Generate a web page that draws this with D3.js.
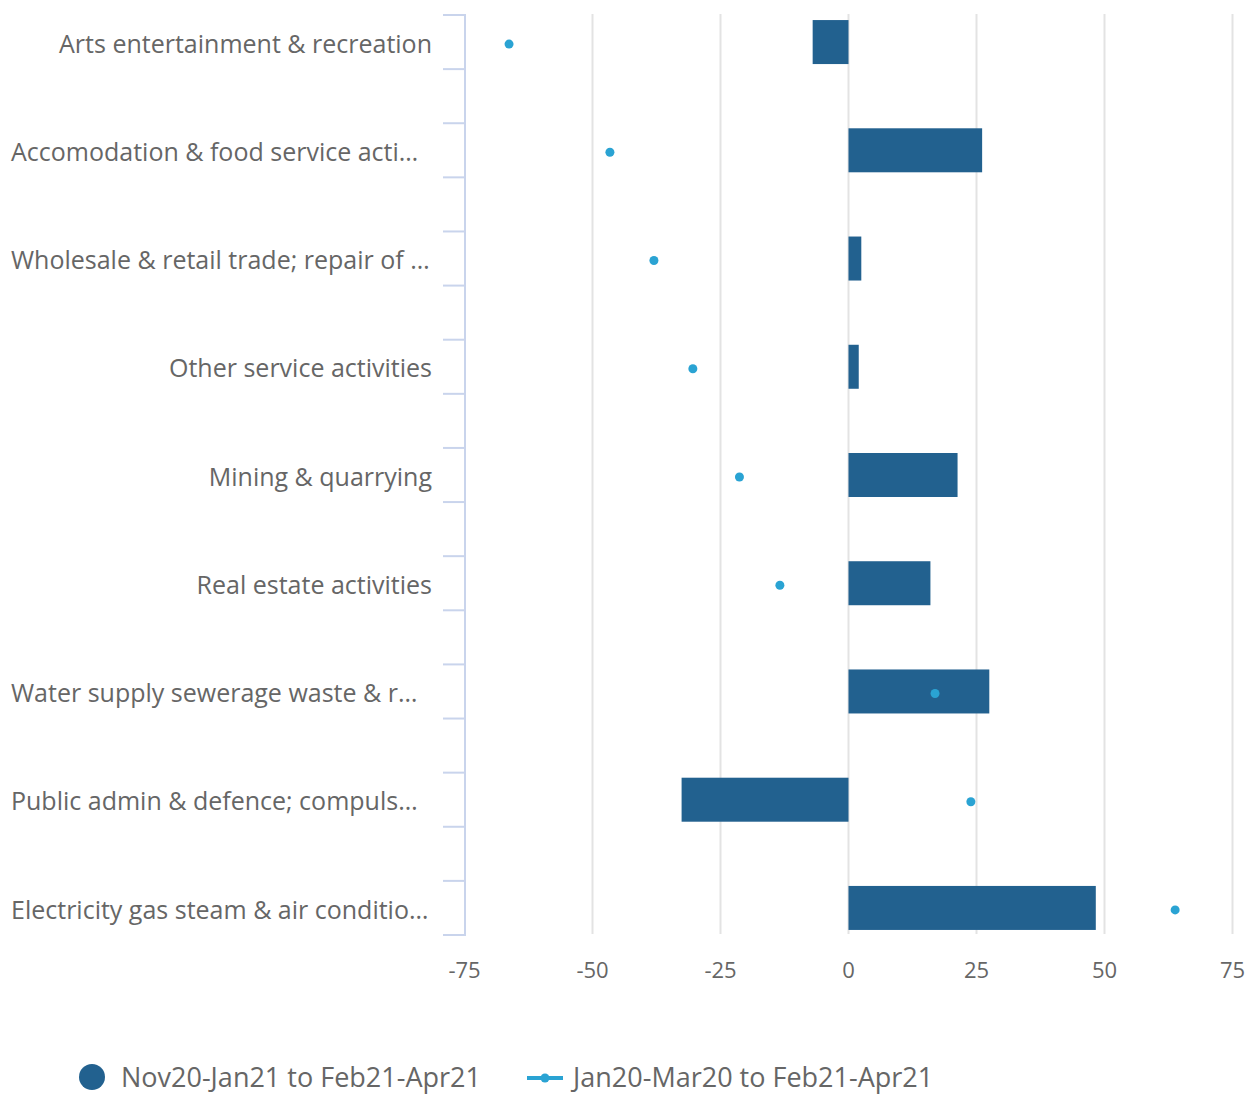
<!DOCTYPE html>
<html>
<head>
<meta charset="utf-8">
<title>Industry change</title>
<script src="https://cdn.jsdelivr.net/npm/d3@7"></script>
<style>
  body { margin: 0; background: #fff; }
  text { font-family: "Open Sans", sans-serif; fill: #666; }
</style>
</head>
<body>
<script>
// data
var categories = [
  "Arts entertainment & recreation",
  "Accomodation & food service acti\u2026",
  "Wholesale & retail trade; repair of \u2026",
  "Other service activities",
  "Mining & quarrying",
  "Real estate activities",
  "Water supply sewerage waste & r\u2026",
  "Public admin & defence; compuls\u2026",
  "Electricity gas steam & air conditio\u2026"
];
var recentChange = [-7.0, 26.1, 2.5, 2.0, 21.3, 16.0, 27.5, -32.6, 48.3];
var longChange = [-66.3, -46.6, -38.0, -30.4, -21.3, -13.4, 16.9, 23.9, 63.8];
var xTicks = [-75, -50, -25, 0, 25, 50, 75];
var seriesNames = ["Nov20-Jan21 to Feb21-Apr21", "Jan20-Mar20 to Feb21-Apr21"];

var width = 1257, height = 1095;
var barColor = "#22618f", dotColor = "#2aa3d3";

var svg = d3.select("body").append("svg")
  .attr("width", width).attr("height", height);

var x = d3.scaleLinear().domain([-75, 75]).range([464.5, 1232.5]);
var y = d3.scaleBand().domain(categories).range([15, 935]).paddingInner(0.5);

// gridlines
svg.append("g").selectAll("line").data(xTicks.slice(1)).enter().append("line")
  .attr("x1", d => x(d)).attr("x2", d => x(d))
  .attr("y1", 14).attr("y2", 934)
  .attr("stroke", "#e3e3e3").attr("stroke-width", 2);

// x tick labels
svg.append("g").selectAll("text").data(xTicks).enter().append("text")
  .attr("x", d => x(d)).attr("y", 978)
  .attr("text-anchor", "middle")
  .style("font-size", "22px")
  .text(d => d);

// y axis: line with ticks either side of each label
var axisColor = "#c9d4ec";
svg.append("line")
  .attr("x1", 465).attr("x2", 465).attr("y1", 14).attr("y2", 936)
  .attr("stroke", axisColor).attr("stroke-width", 2);
var tickG = svg.append("g");
categories.forEach(function (c) {
  [y(c), y(c) + y.bandwidth()].forEach(function (ty) {
    tickG.append("line")
      .attr("x1", 443).attr("x2", 465).attr("y1", ty).attr("y2", ty)
      .attr("stroke", axisColor).attr("stroke-width", 2);
  });
});

// truncated labels sit flush left, full ones flush right
var cut = d => d.slice(-1) === "\u2026";
svg.append("g").selectAll("text").data(categories).enter().append("text")
  .attr("x", d => cut(d) ? 11 : 432)
  .attr("y", d => y(d) + y.bandwidth() / 2 + 4)
  .attr("text-anchor", d => cut(d) ? "start" : "end")
  .attr("dominant-baseline", "middle")
  .style("font-size", "25px")
  .text(d => d);

// bars
var barH = 44;
svg.append("g").selectAll("rect").data(recentChange).enter().append("rect")
  .attr("x", d => x(Math.min(0, d)))
  .attr("width", d => Math.abs(x(d) - x(0)))
  .attr("y", (d, i) => y(categories[i]) + y.bandwidth() / 2 - barH / 2)
  .attr("height", barH)
  .attr("fill", barColor);

// dots
svg.append("g").selectAll("circle").data(longChange).enter().append("circle")
  .attr("cx", d => x(d))
  .attr("cy", (d, i) => y(categories[i]) + y.bandwidth() / 2 + 2)
  .attr("r", 4.5)
  .attr("fill", dotColor);

// legend
var leg = svg.append("g");
leg.append("circle").attr("cx", 92).attr("cy", 1077).attr("r", 13).attr("fill", barColor);
leg.append("text").attr("x", 121).attr("y", 1087).style("font-size", "27px").text(seriesNames[0]);
leg.append("line").attr("x1", 527).attr("x2", 563).attr("y1", 1078).attr("y2", 1078)
  .attr("stroke", dotColor).attr("stroke-width", 4);
leg.append("circle").attr("cx", 545).attr("cy", 1078).attr("r", 4.5).attr("fill", dotColor);
leg.append("text").attr("x", 573).attr("y", 1087).style("font-size", "27px").text(seriesNames[1]);
</script>
</body>
</html>
